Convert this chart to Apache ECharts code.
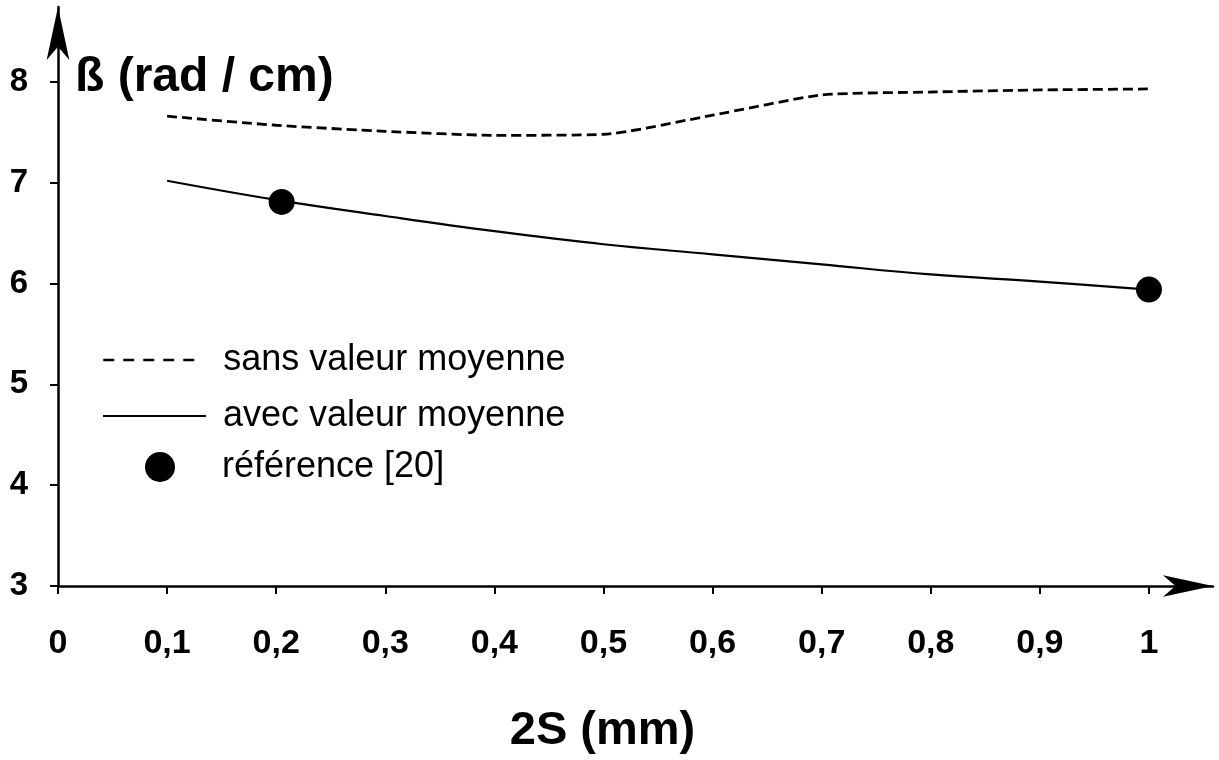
<!DOCTYPE html>
<html>
<head>
<meta charset="utf-8">
<title>ß (rad / cm) en fonction de 2S (mm)</title>
<script src="https://cdn.jsdelivr.net/npm/echarts@6/dist/echarts.min.js"></script>
<style>
  html, body { margin: 0; padding: 0; background: #ffffff; }
  #chart { width: 1219px; height: 760px; }
</style>
</head>
<body>
<div id="chart"></div>
<script>
// 2S (mm) sample positions of both computed curves
const spacing = [0.1, 0.2, 0.3, 0.4, 0.5, 0.6, 0.7, 0.8, 0.9, 1.0];
// ß (rad/cm) without the mean value
const sansMoyenne = [7.66, 7.57, 7.51, 7.47, 7.48, 7.67, 7.87, 7.90, 7.92, 7.93];
// ß (rad/cm) with the mean value
const avecMoyenne = [7.02, 6.83, 6.67, 6.52, 6.39, 6.29, 6.19, 6.09, 6.02, 5.94];
// published reference points [20]
const refSpacing = [0.205, 1.0];
const refBeta = [6.81, 5.94];
// tick positions
const xTicks = [0, 0.1, 0.2, 0.3, 0.4, 0.5, 0.6, 0.7, 0.8, 0.9, 1.0];
const yTicks = [3, 4, 5, 6, 7, 8];

const FONT = '"Liberation Sans", Arial, Helvetica, sans-serif';
const INK = '#000000';

const pairs = (xs, ys) => xs.map((x, i) => [x, ys[i]]);
const decimalComma = v => String(Math.round(v * 10) / 10).replace('.', ',');

const chart = echarts.init(document.getElementById('chart'), null, { renderer: 'canvas' });

const legendText = (padBottom, padLeft) => ({
  fontFamily: FONT,
  fontSize: 36,
  color: INK,
  lineHeight: 36,
  padding: [0, 0, padBottom, padLeft]
});
// line legends show only the stroke, no symbol
const noSymbol = { color: 'rgba(0,0,0,0)', borderWidth: 0, opacity: 0 };

chart.setOption({
  animation: false,
  backgroundColor: '#ffffff',
  title: {
    text: 'ß (rad / cm)',
    left: 75,
    top: 54,
    padding: 0,
    textStyle: { fontFamily: FONT, fontSize: 48, fontWeight: 'bold', color: INK }
  },
  legend: [
    {
      data: ['sans valeur moyenne'],
      left: 102, top: 332, padding: 0,
      itemWidth: 96, itemHeight: 60,
      selectedMode: false,
      itemStyle: noSymbol,
      lineStyle: { type: [11, 9], width: 2.5, color: INK },
      textStyle: legendText(20, 19)
    },
    {
      data: ['avec valeur moyenne'],
      left: 102, top: 388, padding: 0,
      itemWidth: 103, itemHeight: 60,
      selectedMode: false,
      itemStyle: noSymbol,
      lineStyle: { width: 2, color: INK },
      textStyle: legendText(20, 12)
    },
    {
      data: ['référence [20]'],
      left: 145, top: 445, padding: 0,
      itemWidth: 30, itemHeight: 60,
      selectedMode: false,
      textStyle: legendText(8, 42)
    }
  ],
  grid: { left: 58, right: 6, top: 7, bottom: 173, containLabel: false },
  xAxis: {
    type: 'value',
    min: 0,
    max: 1.0587,
    name: '2S (mm)',
    nameLocation: 'middle',
    nameGap: 122,
    nameTextStyle: {
      fontFamily: FONT, fontSize: 47, fontWeight: 'bold', color: INK,
      padding: [0, 66, 0, 0]
    },
    axisLine: {
      show: true,
      symbol: ['none', 'arrow'],
      symbolSize: [16, 50],
      lineStyle: { color: INK, width: 2.5 }
    },
    axisTick: {
      show: true, length: 8, customValues: xTicks,
      lineStyle: { color: INK, width: 2 }
    },
    axisLabel: {
      customValues: xTicks,
      margin: 41,
      fontFamily: FONT, fontSize: 34, fontWeight: 'bold', color: INK,
      formatter: decimalComma
    },
    splitLine: { show: false }
  },
  yAxis: {
    type: 'value',
    min: 3,
    max: 8.743,
    axisLine: {
      show: true,
      symbol: ['none', 'arrow'],
      symbolSize: [17, 53],
      lineStyle: { color: INK, width: 2.5 }
    },
    axisTick: {
      show: true, length: 8, customValues: yTicks,
      lineStyle: { color: INK, width: 2 }
    },
    axisLabel: {
      customValues: yTicks,
      margin: 30,
      fontFamily: FONT, fontSize: 33, fontWeight: 'bold', color: INK
    },
    splitLine: { show: false }
  },
  series: [
    {
      name: 'sans valeur moyenne',
      type: 'line',
      data: pairs(spacing, sansMoyenne),
      smooth: 0.2,
      symbol: 'none',
      lineStyle: { color: INK, width: 2.8, type: [10, 5] },
      itemStyle: { color: INK },
      z: 3
    },
    {
      name: 'avec valeur moyenne',
      type: 'line',
      data: pairs(spacing, avecMoyenne),
      smooth: 0.4,
      symbol: 'none',
      lineStyle: { color: INK, width: 2.2 },
      itemStyle: { color: INK },
      z: 3
    },
    {
      name: 'référence [20]',
      type: 'scatter',
      data: pairs(refSpacing, refBeta),
      symbol: 'circle',
      symbolSize: 26,
      itemStyle: { color: INK, opacity: 1 },
      z: 4
    }
  ]
});
</script>
</body>
</html>
